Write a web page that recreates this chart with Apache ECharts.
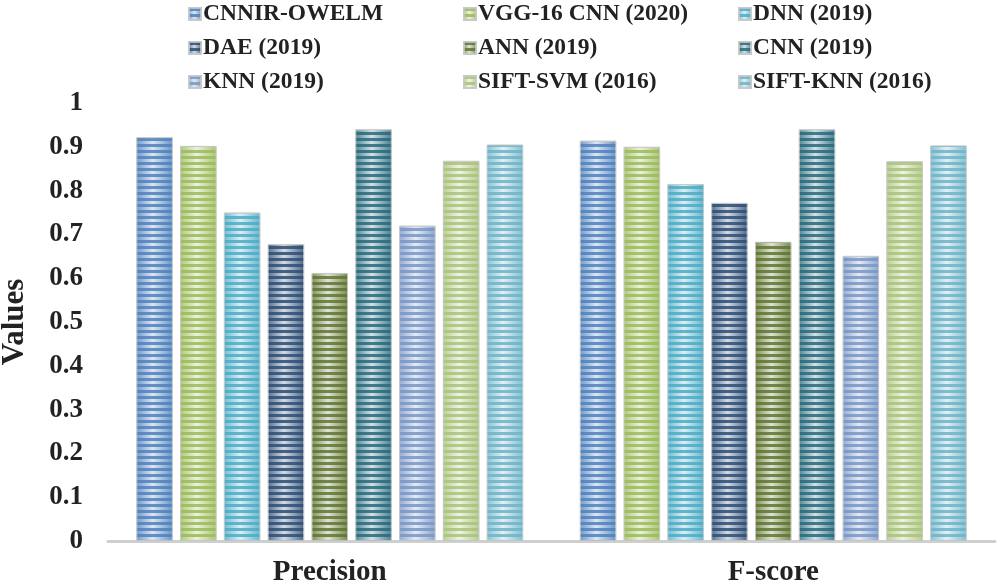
<!DOCTYPE html>
<html><head><meta charset="utf-8">
<script src="https://cdn.jsdelivr.net/npm/echarts@6/dist/echarts.min.js"></script>
<style>html,body{margin:0;padding:0;background:#fff}#c{width:998px;height:586px}</style>
</head><body><div id="c"></div>
<script>
const categories = ['Precision', 'F-score'];
const seriesNames = ['CNNIR-OWELM', 'VGG-16 CNN (2020)', 'DNN (2019)', 'DAE (2019)', 'ANN (2019)', 'CNN (2019)', 'KNN (2019)', 'SIFT-SVM (2016)', 'SIFT-KNN (2016)'];
const cnnirOwelm = [0.922, 0.914];
const vgg16 = [0.902, 0.900];
const dnn = [0.750, 0.815];
const dae = [0.678, 0.772];
const ann = [0.612, 0.683];
const cnn = [0.940, 0.940];
const knn = [0.720, 0.651];
const siftSvm = [0.868, 0.867];
const siftKnn = [0.905, 0.903];
const yTicks = ['0', '0.1', '0.2', '0.3', '0.4', '0.5', '0.6', '0.7', '0.8', '0.9', '1'];

const values = [cnnirOwelm, vgg16, dnn, dae, ann, cnn, knn, siftSvm, siftKnn];
const colors = ['#4f81bd', '#9bbb59', '#4bacc6', '#2c4d75', '#5f7530', '#276a7c', '#7896c6', '#a9c37a', '#6cb4c8'];

function mix(hex, w, t) {
  const n = parseInt(hex.slice(1), 16);
  const r = (n >> 16) & 255, g = (n >> 8) & 255, b = n & 255;
  const m = v => Math.round(v + (w - v) * t);
  return 'rgb(' + m(r) + ',' + m(g) + ',' + m(b) + ')';
}
function rgba(hex, a) {
  const n = parseInt(hex.slice(1), 16);
  return 'rgba(' + ((n >> 16) & 255) + ',' + ((n >> 8) & 255) + ',' + (n & 255) + ',' + a + ')';
}

const FONT = '"Liberation Serif", "DejaVu Serif", serif';

const series = seriesNames.map((name, i) => ({
  name: name,
  type: 'bar',
  data: values[i],
  barWidth: 36.5,
  barGap: '20%',
  itemStyle: {
    color: {
      type: 'linear', x: 0, y: 0, x2: 1, y2: 0,
      colorStops: [
        { offset: 0, color: mix(colors[i], 255, 0.2) },
        { offset: 0.45, color: mix(colors[i], 255, 0.8) },
        { offset: 1, color: mix(colors[i], 255, 0.15) }
      ]
    },
    borderColor: 'rgba(200,200,200,0.8)',
    borderWidth: 1,
    decal: {
      symbol: 'rect',
      symbolSize: 1,
      dashArrayX: [1, 0],
      dashArrayY: [2.5, 2.5],
      rotation: 0,
      color: rgba(colors[i], 0.85)
    }
  }
}));

const legendNames = i => [seriesNames[i], seriesNames[i + 3], seriesNames[i + 6]];
const legendBase = {
  orient: 'vertical',
  top: -3,
  itemWidth: 12,
  itemHeight: 12,
  itemGap: 10,
  icon: 'rect',
  textStyle: { fontFamily: FONT, fontWeight: 'bold', fontSize: 23.5, color: '#222', lineHeight: 23.5, padding: [0, 0, 0, -3] }
};

const chart = echarts.init(document.getElementById('c'));
chart.setOption({
  animation: false,
  aria: { enabled: true, decal: { show: true } },
  color: colors,
  legend: [
    Object.assign({}, legendBase, { left: 183, data: legendNames(0) }),
    Object.assign({}, legendBase, { left: 458, data: legendNames(1) }),
    Object.assign({}, legendBase, { left: 733, data: legendNames(2) })
  ],
  grid: { left: 108, right: 3, top: 103, bottom: 45, containLabel: false, outerBoundsMode: 'none' },
  xAxis: {
    type: 'category',
    data: categories,
    axisLine: { show: true, lineStyle: { color: '#cfcfcf', width: 3 } },
    axisTick: { show: false },
    axisLabel: { margin: 17, fontFamily: FONT, fontWeight: 'bold', fontSize: 29, color: '#222' }
  },
  yAxis: {
    type: 'value',
    min: 0, max: 1, interval: 0.1,
    name: 'Values',
    nameLocation: 'middle',
    nameGap: 78,
    nameRotate: 90,
    nameTextStyle: { fontFamily: FONT, fontWeight: 'bold', fontSize: 31, color: '#222' },
    axisLine: { show: false },
    axisTick: { show: false },
    splitLine: { show: false },
    axisLabel: {
      margin: 25,
      fontFamily: FONT, fontWeight: 'bold', fontSize: 27, color: '#222',
      formatter: v => yTicks[Math.round(v * 10)]
    }
  },
  series: series
});
</script>
</body></html>
